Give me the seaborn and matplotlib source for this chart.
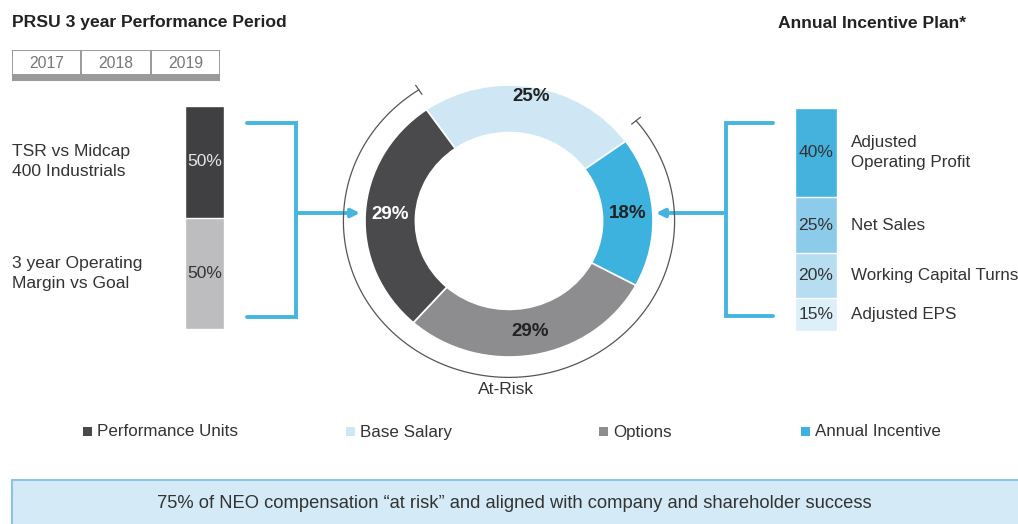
import numpy as np
import pandas as pd
import matplotlib
matplotlib.use('Agg')
import matplotlib.pyplot as plt
import seaborn as sns
from matplotlib.patches import Rectangle
from matplotlib import font_manager

# --- data ---
years = ['2017', '2018', '2019']
prsu_labels = ['TSR vs Midcap\n400 Industrials', '3 year Operating\nMargin vs Goal']
prsu_values = [50, 50]
aip_labels = ['Adjusted\nOperating Profit', 'Net Sales', 'Working Capital Turns', 'Adjusted EPS']
aip_values = [40, 25, 20, 15]
mix_labels = ['Base Salary', 'Annual Incentive', 'Options', 'Performance Units']
mix_values = [25, 18, 29, 29]
legend_order = ['Performance Units', 'Base Salary', 'Options', 'Annual Incentive']

mix_colors = {'Base Salary': '#cfe7f5', 'Annual Incentive': '#3db2df',
              'Options': '#8d8d8f', 'Performance Units': '#4a4a4c'}
prsu_colors = ['#404042', '#bdbdbf']
prsu_text = ['#e6e6e6', '#333333']
aip_colors = ['#45b2de', '#8dcbea', '#b7ddf1', '#ddeff9']
blue_line = '#45b5e0'
txt = '#333333'

sns.set_theme(style='white')
# condensed look if the narrow face is there, else shrink regular one
names = {f.name for f in font_manager.fontManager.ttflist}
if 'Liberation Sans Narrow' in names:
    FONT, k, LS = 'Liberation Sans Narrow', 1.0, 1.2
else:
    FONT, k, LS = 'Liberation Sans', 0.84, 1.45
plt.rcParams['font.family'] = [FONT, 'DejaVu Sans']
FS = 15 * k

W, H = 1018, 524
fig = plt.figure(figsize=(W / 100, H / 100), dpi=100)


def px_axes(x0, y0, x1, y1, **kw):
    return fig.add_axes([x0 / W, 1 - y1 / H, (x1 - x0) / W, (y1 - y0) / H], **kw)


# background layer for brackets, arrows, banner
bg = fig.add_axes([0, 0, 1, 1])
bg.set_xlim(0, W)
bg.set_ylim(H, 0)
bg.set_axis_off()

bg.text(12, 23, 'PRSU 3 year Performance Period', fontsize=FS, fontweight='bold',
        color='#222222', va='center')
bg.text(778, 23, 'Annual Incentive Plan*', fontsize=FS, fontweight='bold',
        color='#222222', va='center')

# brackets + arrows
bg.plot([247, 296, 296, 247], [123, 123, 317, 317], color=blue_line, lw=2.8,
        solid_joinstyle='miter')
bg.annotate('', xy=(360, 213), xytext=(296, 213),
            arrowprops=dict(arrowstyle='-|>', color=blue_line, lw=2.8,
                            mutation_scale=12, shrinkA=0, shrinkB=0))
bg.plot([773, 726, 726, 773], [123, 123, 316, 316], color=blue_line, lw=2.8,
        solid_joinstyle='miter')
bg.annotate('', xy=(656, 213), xytext=(726, 213),
            arrowprops=dict(arrowstyle='-|>', color=blue_line, lw=2.8,
                            mutation_scale=12, shrinkA=0, shrinkB=0))

# banner
bg.add_patch(Rectangle((12, 480), 1020, 60, facecolor='#d4ebf7', edgecolor='#86c4df', lw=1.4))
bg.text(514, 503, '75% of NEO compensation \u201cat risk\u201d and aligned with company and shareholder success',
        fontsize=FS * 1.05, color=txt, ha='center', va='center')

# legend
leg_x = [97, 360, 613, 815]
for lab, x in zip(legend_order, leg_x):
    bg.add_patch(Rectangle((x - 14, 427), 9, 9, facecolor=mix_colors[lab], edgecolor='none'))
    bg.text(x, 432, lab, fontsize=FS * 0.97, color=txt, va='center')

bg.text(506, 390, 'At-Risk', fontsize=FS, color=txt, ha='center', va='center')

# year boxes
ay = px_axes(12, 50, 220, 81)
ay.set_xlim(0, len(years))
ay.set_ylim(1, 0)
ay.set_axis_off()
for i, y in enumerate(years):
    ay.add_patch(Rectangle((i, 0), 1, 0.82, facecolor='white', edgecolor='#9a9a9a', lw=1.4))
    ay.text(i + 0.5, 0.42, y, ha='center', va='center', fontsize=FS * 0.9, color='#777777')
ay.add_patch(Rectangle((0, 0.82), len(years), 0.18, facecolor='#9a9a9a', edgecolor='none'))


def stacked_bar(ax, values, colors):
    cum = np.cumsum(values)
    df = pd.DataFrame({'bar': ['b'] * len(values), 'cum': cum,
                       'seg': [str(i) for i in range(len(values))]})
    pal = dict(zip(df['seg'], colors))
    sns.barplot(data=df, x='bar', y='cum', hue='seg', hue_order=list(df['seg'][::-1]),
                palette=pal, dodge=False, width=1, saturation=1, legend=False,
                edgecolor='white', linewidth=1, ax=ax)
    ax.set_xlim(-0.5, 0.5)
    ax.set_ylim(cum[-1], 0)
    ax.set_axis_off()
    return cum - np.asarray(values) / 2


# PRSU bar
ap = px_axes(185, 106, 224, 329)
mids = stacked_bar(ap, prsu_values, prsu_colors)
for m, v, lab, c in zip(mids, prsu_values, prsu_labels, prsu_text):
    ap.text(0, m, f'{v}%', ha='center', va='center', fontsize=FS, color=c)
    ap.annotate(lab, xy=(12, m), xycoords=('figure pixels', 'data'), ha='left',
                va='center', fontsize=FS, color=txt, linespacing=LS)

# AIP bar
aa = px_axes(795, 108, 837, 331)
mids = stacked_bar(aa, aip_values, aip_colors)
for m, v, lab in zip(mids, aip_values, aip_labels):
    aa.text(0, m, f'{v}%', ha='center', va='center', fontsize=FS, color=txt)
    aa.annotate(lab, xy=(1, m), xycoords=('axes fraction', 'data'), xytext=(14, 0),
                textcoords='offset pixels', ha='left', va='center', fontsize=FS * 0.97,
                color=txt, linespacing=LS)

# donut
cx, cy, rx, ry = 509, 221, 144, 136
ad = px_axes(cx - 1.25 * rx, cy - 1.25 * ry, cx + 1.25 * rx, cy + 1.25 * ry)
wedges, _ = ad.pie(mix_values, colors=[mix_colors[l] for l in mix_labels], startangle=125,
                   counterclock=False,
                   wedgeprops=dict(width=0.35, edgecolor='white', linewidth=1.2))
ad.set_aspect('auto')
ad.set_xlim(-1.25, 1.25)
ad.set_ylim(-1.25, 1.25)
for w, v, lab in zip(wedges, mix_values, mix_labels):
    a = np.deg2rad((w.theta1 + w.theta2) / 2)
    c = 'white' if lab == 'Performance Units' else '#222222'
    r = 0.93 if lab == 'Base Salary' else 0.825
    ad.text(r * np.cos(a), r * np.sin(a), f'{v}%', ha='center', va='center',
            fontsize=13.5, fontweight='bold', color=c, family='Liberation Sans')

# at-risk arc around the non-salary wedges
t0 = wedges[0].theta1 + 4
t1 = wedges[0].theta2 - 360 - 2
t = np.deg2rad(np.linspace(t1, t0, 300))
R = 1.15
ad.plot(R * np.cos(t), R * np.sin(t), color='#555555', lw=0.9)
for th in (t0, t1):
    a = np.deg2rad(th)
    ad.plot([(R - 0.04) * np.cos(a), (R + 0.04) * np.cos(a)],
            [(R - 0.04) * np.sin(a), (R + 0.04) * np.sin(a)], color='#555555', lw=0.9)

fig.savefig('out.png', dpi=100)
